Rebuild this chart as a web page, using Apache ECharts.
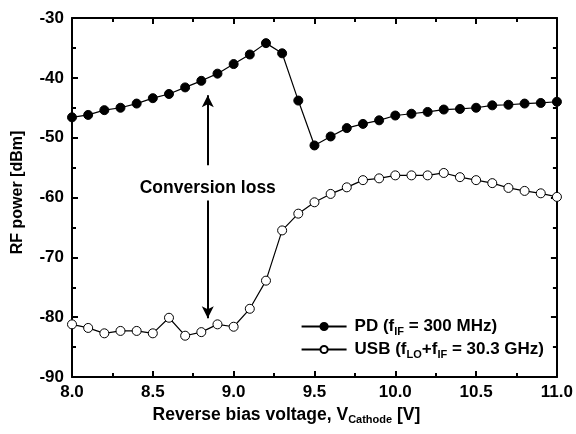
<!DOCTYPE html>
<html><head><meta charset="utf-8">
<script src="https://cdn.jsdelivr.net/npm/echarts@6/dist/echarts.min.js"></script>
<style>html,body{margin:0;padding:0;background:#fff}#c{width:576px;height:434px}</style>
</head><body><div id="c"></div>
<script>
var voltages = [8.0,8.1,8.2,8.3,8.4,8.5,8.6,8.7,8.8,8.9,9.0,9.1,9.2,9.3,9.4,9.5,9.6,9.7,9.8,9.9,10.0,10.1,10.2,10.3,10.4,10.5,10.6,10.7,10.8,10.9,11.0];
var pdPower = [-46.6,-46.2,-45.4,-45.0,-44.3,-43.4,-42.7,-41.6,-40.5,-39.3,-37.7,-36.1,-34.2,-35.9,-43.8,-51.3,-49.8,-48.4,-47.7,-47.1,-46.3,-46.0,-45.7,-45.3,-45.2,-45.0,-44.6,-44.5,-44.3,-44.2,-44.0];
var usbPower = [-81.2,-81.8,-82.7,-82.3,-82.3,-82.7,-80.1,-83.1,-82.5,-81.2,-81.6,-78.6,-73.9,-65.5,-62.7,-60.8,-59.4,-58.3,-57.1,-56.8,-56.3,-56.3,-56.3,-55.9,-56.6,-57.1,-57.6,-58.4,-58.9,-59.3,-59.9];
var xTicks = {min: 8.0, max: 11.0, step: 0.5};
var yTicks = {min: -90, max: -30, step: 10};
var arrowX = 8.84, arrowTop = -42.9, arrowBottom = -80.2, labelY = -58.5;
var annotation = 'Conversion loss';

function pairs(xs, ys){ return xs.map(function(x,i){return [x, ys[i]];}); }
var font = '"Liberation Sans", Arial, sans-serif';
var rich = {
  b: {fontFamily: font, fontWeight: 'bold', fontSize: 17, color: '#000'},
  s: {fontFamily: font, fontWeight: 'bold', fontSize: 11, color: '#000', verticalAlign: 'bottom', padding: [10,0,0,0]}
};
var chart = echarts.init(document.getElementById('c'), null, {renderer: 'canvas'});
var axisLine = {show: true, lineStyle: {color: '#000', width: 2}};
var tick = {show: true, inside: true, length: 6, lineStyle: {width: 2, color: '#000'}};
var minor = {show: true, splitNumber: 2, length: 4, lineStyle: {width: 2, color: '#000'}};
var option = {
  backgroundColor: '#fff',
  animation: false,
  grid: {left: 72, right: 19, top: 18, bottom: 57, containLabel: false},
  legend: {
    right: 27, bottom: 69, orient: 'vertical', itemWidth: 45, itemHeight: 9, itemGap: 4,
    align: 'left',
    textStyle: {rich: rich, fontFamily: font, fontWeight: 'bold', fontSize: 17, color: '#000', padding: [0,0,0,3]},
    formatter: function(n){
      if (n === 'PD') return '{b|PD (f}{s|IF}{b| = 300 MHz)}';
      return '{b|USB (f}{s|LO}{b|+f}{s|IF}{b| = 30.3 GHz)}';
    },
    data: ['PD','USB']
  },
  xAxis: [{
    type: 'value', min: xTicks.min, max: xTicks.max, interval: xTicks.step,
    axisLine: axisLine, axisTick: tick, minorTick: minor,
    splitLine: {show: false},
    axisLabel: {formatter: function(v){return v.toFixed(1);}, fontFamily: font, fontWeight: 'bold', fontSize: 17, color: '#000', margin: 7},
    name: '{b|Reverse bias voltage, V}{s|Cathode}{b| [V]}',
    nameLocation: 'middle', nameGap: 23,
    nameTextStyle: {padding: [0, 56, 0, 0], rich: {
      b: {fontFamily: font, fontWeight: 'bold', fontSize: 17.5, color: '#000'},
      s: {fontFamily: font, fontWeight: 'bold', fontSize: 11, color: '#000', verticalAlign: 'bottom', padding: [11,0,0,0]}
    }}
  },{
    type: 'value', position: 'top', min: xTicks.min, max: xTicks.max, interval: xTicks.step,
    axisLine: axisLine, axisTick: tick, minorTick: minor,
    splitLine: {show: false}, axisLabel: {show: false}
  }],
  yAxis: [{
    type: 'value', min: yTicks.min, max: yTicks.max, interval: yTicks.step,
    axisLine: axisLine, axisTick: tick, minorTick: minor,
    splitLine: {show: false},
    axisLabel: {fontFamily: font, fontWeight: 'bold', fontSize: 17, color: '#000', margin: 8},
    name: 'RF power [dBm]', nameLocation: 'middle', nameGap: 46, nameRotate: 90,
    nameTextStyle: {fontFamily: font, fontWeight: 'bold', fontSize: 16, color: '#000', padding: [0, 0, 0, 10]}
  },{
    type: 'value', position: 'right', min: yTicks.min, max: yTicks.max, interval: yTicks.step,
    axisLine: axisLine, axisTick: tick, minorTick: minor,
    splitLine: {show: false}, axisLabel: {show: false}
  }],
  series: [{
    name: 'PD', type: 'line', data: pairs(voltages, pdPower),
    symbol: 'circle', symbolSize: 9, showAllSymbol: true,
    lineStyle: {color: '#000', width: 1.2},
    itemStyle: {color: '#000', borderColor: '#000', borderWidth: 1},
    z: 3,
    markLine: {
      silent: true, symbol: ['none','arrow'], symbolSize: [9, 12],
      label: {show: false},
      lineStyle: {color: '#000', width: 2, type: 'solid'},
      data: [
        [{coord: [arrowX, -54.6]}, {coord: [arrowX, arrowTop]}],
        [{coord: [arrowX, -60.5]}, {coord: [arrowX, arrowBottom]}]
      ]
    },
    markPoint: {
      silent: true, symbol: 'rect', symbolSize: 0,
      data: [{coord: [arrowX, labelY], value: annotation}],
      label: {show: true, formatter: annotation, position: 'inside', fontFamily: font, fontWeight: 'bold', fontSize: 17.5, color: '#000'}
    }
  },{
    name: 'USB', type: 'line', data: pairs(voltages, usbPower),
    symbol: 'circle', symbolSize: 9, showAllSymbol: true,
    lineStyle: {color: '#000', width: 1.2},
    itemStyle: {color: '#fff', borderColor: '#000', borderWidth: 1},
    z: 3
  }]
};
chart.setOption(option);
</script></body></html>
